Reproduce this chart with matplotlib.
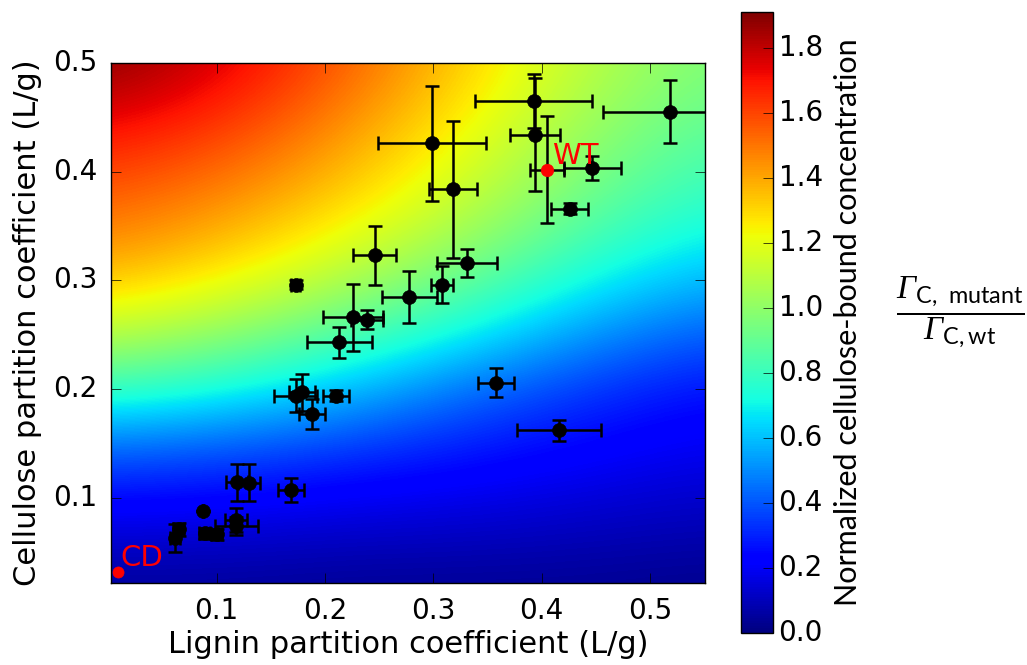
# cellulose_lignin_map.py
# Normalized cellulose-bound concentration vs. partition coefficients

import matplotlib
matplotlib.use("Agg")
import matplotlib.pyplot as plt
import numpy as np

plt.style.use("classic")
plt.rcParams['mathtext.fontset'] = 'custom'
plt.rcParams['mathtext.rm'] = 'Liberation Serif:italic'
plt.rcParams['mathtext.sf'] = 'Lato'

# background surface on a coarse even grid
grid_kl = [0.0, 0.11, 0.22, 0.33, 0.44, 0.55]
grid_kc = [0.02, 0.08, 0.14, 0.20, 0.26, 0.32, 0.38, 0.44, 0.50]
grid_val = [
    [0.04, 0.04, 0.03, 0.03, 0.03, 0.02],
    [0.18, 0.17, 0.15, 0.14, 0.12, 0.10],
    [0.40, 0.37, 0.32, 0.27, 0.22, 0.18],
    [0.80, 0.72, 0.60, 0.45, 0.34, 0.26],
    [1.16, 1.05, 0.90, 0.74, 0.56, 0.44],
    [1.42, 1.31, 1.15, 0.97, 0.78, 0.64],
    [1.56, 1.47, 1.32, 1.13, 0.93, 0.78],
    [1.72, 1.62, 1.44, 1.23, 1.02, 0.88],
    [1.90, 1.76, 1.55, 1.32, 1.10, 0.96],
]

# mutants
lig = [0.519, 0.393, 0.394, 0.447, 0.426, 0.299, 0.318, 0.331, 0.308, 0.278, 0.246,
       0.173, 0.226, 0.239, 0.213, 0.173, 0.179, 0.188, 0.210, 0.358, 0.416, 0.119,
       0.130, 0.169, 0.087, 0.118, 0.118, 0.089, 0.100, 0.065, 0.0615]
cel = [0.455, 0.465, 0.434, 0.403, 0.366, 0.426, 0.384, 0.316, 0.296, 0.285, 0.323,
       0.296, 0.266, 0.264, 0.243, 0.194, 0.197, 0.177, 0.194, 0.206, 0.162, 0.1145,
       0.114, 0.107, 0.088, 0.080, 0.074, 0.0675, 0.0666, 0.071, 0.063]
lig_err = [0.062, 0.054, 0.023, 0.026, 0.017, 0.050, 0.022, 0.028, 0.010, 0.025, 0.020,
           0.004, 0.028, 0.015, 0.030, 0.020, 0.012, 0.012, 0.012, 0.017, 0.039, 0.010,
           0.010, 0.012, 0.0, 0.010, 0.020, 0.005, 0.005, 0.005, 0.005]
cel_err = [0.029, 0.025, 0.052, 0.011, 0.005, 0.053, 0.063, 0.013, 0.017, 0.024, 0.027,
           0.004, 0.031, 0.009, 0.014, 0.015, 0.017, 0.014, 0.005, 0.013, 0.010, 0.017,
           0.017, 0.011, 0.0, 0.011, 0.008, 0.005, 0.005, 0.006, 0.013]

# reference points
wt = (0.405, 0.402, 0.016, 0.049)
cd = (0.009, 0.032)

fig = plt.figure(figsize=(10.27, 6.65), dpi=100)
fig.patch.set_facecolor('white')
ax = fig.add_axes([0.1081, 0.1233, 0.5784, 0.782])
cax = fig.add_axes([0.7215, 0.0481, 0.0312, 0.9339])

# pixel centres sit on the grid points
dx = grid_kl[1] - grid_kl[0]
dy = grid_kc[1] - grid_kc[0]
ext = (grid_kl[0] - dx / 2, grid_kl[-1] + dx / 2, grid_kc[0] - dy / 2, grid_kc[-1] + dy / 2)
img = ax.imshow(np.array(grid_val), origin='lower', extent=ext, aspect='auto',
                interpolation='bicubic', cmap='jet', vmin=0.0, vmax=1.91)

ax.errorbar(lig, cel, xerr=lig_err, yerr=cel_err, fmt='o', color='black',
            ecolor='black', elinewidth=1.8, capsize=5, capthick=1.8,
            markersize=10, markeredgecolor='black')
ax.errorbar([wt[0]], [wt[1]], xerr=[wt[2]], yerr=[wt[3]], fmt='o', color='red',
            ecolor='black', elinewidth=1.8, capsize=5, capthick=1.8,
            markersize=9, markeredgecolor='red')
ax.plot([cd[0]], [cd[1]], 'o', color='red', markeredgecolor='red', markersize=8,
        clip_on=False)
ax.text(0.410, 0.407, 'WT', color='red', fontsize=21)
ax.text(0.0114, 0.0372, 'CD', color='red', fontsize=21)

ax.set_xlim(0.0024, 0.551)
ax.set_ylim(0.0217, 0.5)
ax.set_xticks([0.1, 0.2, 0.3, 0.4, 0.5])
ax.set_yticks([0.1, 0.2, 0.3, 0.4, 0.5])
ax.tick_params(labelsize=20, direction='in', length=7, pad=10)
ax.set_xlabel('Lignin partition coefficient (L/g)', fontsize=22, labelpad=4)
ax.set_ylabel('Cellulose partition coefficient (L/g)', fontsize=22, labelpad=8)

cbar = fig.colorbar(img, cax=cax, ticks=np.arange(0, 1.81, 0.2))
cbar.ax.tick_params(labelsize=20, direction='in', length=7)
cbar.set_label('Normalized cellulose-bound concentration', fontsize=22,
               family='Lato', labelpad=8)

fig.text(0.935, 0.53, r'$\dfrac{\Gamma_{\mathsf{C,\ mutant}}}{\Gamma_{\mathsf{C,wt}}}$',
         fontsize=24, ha='center', va='center')

fig.savefig('out.png', dpi=100, facecolor='white')
